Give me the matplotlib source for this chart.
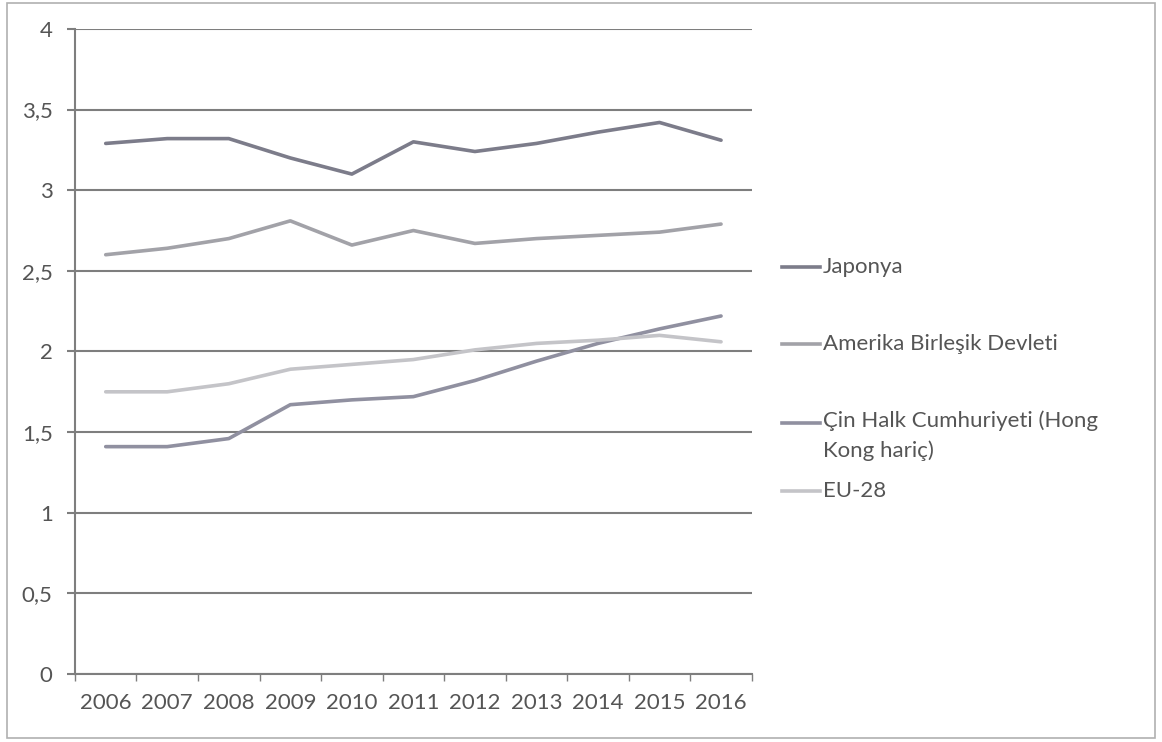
import numpy as np
import matplotlib.pyplot as plt
from matplotlib.lines import Line2D
from matplotlib.patches import Rectangle
from matplotlib.ticker import FuncFormatter, FixedLocator

plt.rcParams['font.family'] = ['Lato', 'DejaVu Sans']

# Data
years = ['2006', '2007', '2008', '2009', '2010', '2011', '2012', '2013', '2014', '2015', '2016']
japonya = [3.29, 3.32, 3.32, 3.20, 3.10, 3.30, 3.24, 3.29, 3.36, 3.42, 3.31]
amerika = [2.60, 2.64, 2.70, 2.81, 2.66, 2.75, 2.67, 2.70, 2.72, 2.74, 2.79]
cin = [1.41, 1.41, 1.46, 1.67, 1.70, 1.72, 1.82, 1.94, 2.05, 2.14, 2.22]
eu28 = [1.75, 1.75, 1.80, 1.89, 1.92, 1.95, 2.01, 2.05, 2.07, 2.10, 2.06]

names = ['Japonya', 'Amerika Birleşik Devleti', 'Çin Halk Cumhuriyeti (Hong\nKong hariç)', 'EU-28']
series = [japonya, amerika, cin, eu28]
colors = ['#7c7c8a', '#a2a2a8', '#9090a0', '#c4c4c8']

text_col = '#555555'
grid_col = '#7e7e7e'
fs = 16

fig = plt.figure(figsize=(11.62, 7.42), dpi=100)
ax = fig.add_axes([0.0645, 0.0916, 0.5825, 0.8694])

x = np.arange(len(years))
for vals, c in zip(series, colors):
    ax.plot(x, vals, color=c, lw=2.6, solid_capstyle='round', zorder=3)

ax.set_xlim(-0.5, len(years) - 0.5)
ax.set_ylim(0, 4)
ax.set_yticks(np.arange(0, 4.01, 0.5))
ax.yaxis.set_major_formatter(FuncFormatter(lambda v, p: ('%g' % v).replace('.', ',')))
ax.grid(axis='y', color=grid_col, lw=1.5, zorder=1)

ax.set_xticks(x)
ax.set_xticklabels(years)
ax.xaxis.set_minor_locator(FixedLocator(np.arange(-0.5, len(years), 1.0)))
ax.tick_params(axis='x', which='major', length=0, pad=14, labelsize=fs, labelcolor=text_col)
ax.tick_params(axis='x', which='minor', length=5, width=1, color=grid_col, direction='out')
ax.tick_params(axis='y', length=6, width=1.5, color=grid_col, pad=10, labelsize=fs, labelcolor=text_col)

for s in ['top', 'right']:
    ax.spines[s].set_visible(False)
for s in ['left', 'bottom']:
    ax.spines[s].set_color(grid_col)
    ax.spines[s].set_linewidth(1.5)

# legend drawn at the right side of the figure
leg_y = [267, 344, 423, 491]
for name, c, yp in zip(names, colors, leg_y):
    yf = 1 - yp / 742
    fig.add_artist(Line2D([782 / 1162, 820 / 1162], [yf, yf], color=c, lw=2.6))
    if '\n' in name:
        yf += 13 / 742
    fig.text(823 / 1162, yf, name, color=text_col, fontsize=fs, va='top' if '\n' in name else 'center',
             linespacing=1.6, transform=fig.transFigure)

# outer frame of the chart area
fig.add_artist(Rectangle((0.006, 0.006), 0.988, 0.99, transform=fig.transFigure,
                         fill=False, edgecolor='#b0b0b0', lw=1.2))

fig.savefig('out.png', dpi=100)
